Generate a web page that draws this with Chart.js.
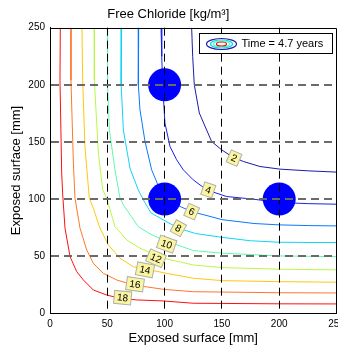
<!DOCTYPE html>
<html>
<head>
<meta charset="utf-8">
<script src="https://cdn.jsdelivr.net/npm/chart.js@4.4.1/dist/chart.umd.min.js"></script>
<style>
  html, body { margin: 0; padding: 0; background: #fff; }
  canvas { display: block; }
</style>
</head>
<body>
<canvas id="myChart" width="338" height="351"></canvas>
<script>
const FONT = "'Liberation Sans', Arial, Helvetica, sans-serif";

// contour levels and their colours (jet-like)
const levels = [2, 4, 6, 8, 10, 12, 14, 16, 18];
const levelColors = ['#1c1ca8', '#1822ee', '#0a78ff', '#10d4f8', '#60f8b0', '#b8f848', '#ffc810', '#ff7828', '#ff1010'];

// contour lines [mm]
const c2x = [123.6, 124.5, 125.9, 130.3, 141, 149.8, 158.5, 168.7, 183.2, 200.7, 225, 250];
const c2y = [250, 225, 200, 175.3, 150.4, 143.1, 137.3, 132.9, 128.5, 126.2, 124.7, 123.6];
const c4x = [96.9, 97.5, 98.3, 100.3, 104.7, 110.5, 116.3, 125, 136.7, 154.2, 177.4, 200, 225, 250];
const c4y = [250, 225, 200, 166.5, 146, 134.4, 125.6, 116.8, 108, 102.2, 99.9, 97, 96, 95.5];
const c6x = [77.4, 77.2, 77, 78.5, 82.9, 88.7, 96, 101.5, 108, 123.6, 137, 150, 178, 200, 225, 250];
const c6y = [250, 225, 200, 178.2, 150.4, 125.6, 108, 101.5, 96, 89, 85.5, 82, 78.6, 77.4, 76.8, 76.5];
const c8x = [62.5, 62.2, 62, 64, 69.8, 77, 81.5, 88, 99.3, 112, 127, 150, 175, 200, 225, 250];
const c8y = [250, 225, 200, 160.6, 127, 108, 99.3, 88, 81.5, 74.5, 69.8, 66.5, 63.5, 62.2, 62, 62];
const c10x = [50, 50, 50.5, 51.8, 56.7, 61.1, 64, 77, 87.3, 98.9, 125, 150.3, 200, 250];
const c10y = [250, 225, 200, 160.6, 125.6, 100.8, 94.9, 75.9, 69.5, 64.2, 54.9, 52.6, 50.2, 49.6];
const c12x = [38.7, 38.7, 42.2, 46, 49.5, 56.7, 66.9, 78.5, 98.9, 125, 150.3, 200, 250];
const c12y = [250, 204, 140.2, 108, 100.8, 75.9, 64.2, 57, 48.2, 42.3, 40, 38.6, 38];
const c14x = [27.9, 28.5, 30.5, 34.3, 37.8, 43.6, 50.9, 61.1, 72.7, 101.8, 125, 150.3, 200, 250];
const c14y = [250, 204, 146, 100.8, 92, 74.5, 59.9, 48.2, 40.8, 35, 30.7, 28.6, 27.7, 27.2];
const c16x = [18.3, 18.3, 20.4, 21.8, 26.2, 32, 37.8, 46.5, 58.2, 72.7, 98.9, 125, 200.7, 250];
const c16y = [250, 204, 131.5, 100.8, 74.5, 55.5, 43.8, 35, 29.2, 24.8, 21, 18.9, 18, 17.8];
const c18x = [9, 8.7, 10.2, 11.1, 13.1, 17.5, 23.3, 29.1, 37.8, 49.5, 61.1, 75.7, 98.9, 125, 200, 250];
const c18y = [250, 204, 122.7, 103.7, 74.5, 49.6, 36.5, 29.2, 20.4, 16, 13.1, 11.7, 10.8, 8.8, 8.3, 8.2];

const contourX = [c2x, c4x, c6x, c8x, c10x, c12x, c14x, c16x, c18x];
const contourY = [c2y, c4y, c6y, c8y, c10y, c12y, c14y, c16y, c18y];

// where the level labels sit
const labelX = [160.6, 138.1, 123.6, 112, 101.8, 92.5, 82.9, 74.2, 63.4];
const labelY = [135.8, 108, 89, 74.5, 60.5, 48.2, 38, 25.4, 13.7];

// sensor positions
const sensorX = [100, 100, 200];
const sensorY = [200, 100, 100];

const axisTicks = [0, 50, 100, 150, 200, 250];
const legendText = 'Time = 4.7 years';

// labels on the contour lines, rotated along the line
const contourLabels = {
    id: 'contourLabels',
    afterDraw(chart) {
        const { ctx, scales: { x, y } } = chart;
        levels.forEach((lv, k) => {
            const px = x.getPixelForValue(labelX[k]);
            const py = y.getPixelForValue(labelY[k]);
            const xs = contourX[k], ys = contourY[k];
            let best = Infinity, ang = 0;
            for (let i = 0; i < xs.length - 1; i++) {
                const ax = x.getPixelForValue(xs[i]), ay = y.getPixelForValue(ys[i]);
                const bx = x.getPixelForValue(xs[i + 1]), by = y.getPixelForValue(ys[i + 1]);
                const dx = bx - ax, dy = by - ay;
                const len2 = dx * dx + dy * dy || 1;
                let t = ((px - ax) * dx + (py - ay) * dy) / len2;
                t = Math.max(0, Math.min(1, t));
                const d = Math.hypot(ax + t * dx - px, ay + t * dy - py);
                if (d < best) { best = d; ang = Math.atan2(dy, dx); }
            }
            if (ang > Math.PI / 2) ang -= Math.PI;
            if (ang < -Math.PI / 2) ang += Math.PI;
            ctx.save();
            ctx.translate(px, py);
            ctx.rotate(ang);
            ctx.font = '10px ' + FONT;
            const txt = String(lv);
            const w = ctx.measureText(txt).width + 6;
            const h = 13;
            ctx.fillStyle = '#faf5a2';
            ctx.strokeStyle = '#b0b0a8';
            ctx.lineWidth = 1;
            ctx.fillRect(-w / 2, -h / 2, w, h);
            ctx.strokeRect(-w / 2, -h / 2, w, h);
            ctx.fillStyle = '#000';
            ctx.textAlign = 'center';
            ctx.textBaseline = 'middle';
            ctx.fillText(txt, 0, 0.5);
            ctx.restore();
        });
    }
};

// box round the axes + the matlab style legend
const frameAndLegend = {
    id: 'frameAndLegend',
    afterDraw(chart) {
        const { ctx, chartArea: ca } = chart;
        ctx.save();
        ctx.strokeStyle = '#000';
        ctx.lineWidth = 1;
        ctx.beginPath();
        ctx.moveTo(Math.round(ca.left) + 0.5, Math.round(ca.top) + 0.5);
        ctx.lineTo(Math.round(ca.right) - 0.5, Math.round(ca.top) + 0.5);
        ctx.lineTo(Math.round(ca.right) - 0.5, Math.round(ca.bottom) + 0.5);
        ctx.stroke();

        const bx = Math.round(ca.right) - 137.5, by = Math.round(ca.top) + 5.5, bw = 133, bh = 20;
        ctx.fillStyle = '#fff';
        ctx.fillRect(bx, by, bw, bh);
        ctx.strokeRect(bx, by, bw, bh);

        const ex = bx + 22, ey = by + bh / 2 + 0.5;
        const rings = [[15, 5.5, '#1c1ca8'], [11, 4, '#10d4f8'], [8, 3, '#60f8b0'], [5, 2, '#e01010']];
        rings.forEach(([rx, ry, c]) => {
            ctx.beginPath();
            ctx.ellipse(ex, ey, rx, ry, 0, 0, Math.PI * 2);
            ctx.strokeStyle = c;
            ctx.lineWidth = 1.2;
            ctx.stroke();
        });
        ctx.fillStyle = '#000';
        ctx.font = '11px ' + FONT;
        ctx.textBaseline = 'middle';
        ctx.textAlign = 'left';
        ctx.fillText(legendText, bx + 42, ey);
        ctx.restore();
    }
};

const datasets = [{
    label: 'sensors',
    data: sensorX.map((x, i) => ({ x, y: sensorY[i] })),
    pointRadius: 16.5,
    pointHoverRadius: 16.5,
    backgroundColor: '#0000ff',
    borderWidth: 0,
    showLine: false,
    order: 0
}];
levels.forEach((lv, k) => {
    datasets.push({
        label: String(lv),
        data: contourX[k].map((x, i) => ({ x, y: contourY[k][i] })),
        showLine: true,
        borderColor: levelColors[k],
        borderWidth: 1,
        pointRadius: 0,
        tension: 0,
        fill: false,
        order: 1
    });
});

const ctx = document.getElementById('myChart').getContext('2d');
new Chart(ctx, {
    type: 'scatter',
    data: { datasets },
    options: {
        responsive: false,
        animation: false,
        events: [],
        layout: { autoPadding: false, padding: { left: 0, right: 1.5, top: 0, bottom: 0 } },
        plugins: {
            legend: { display: false },
            tooltip: { enabled: false },
            title: {
                display: true,
                text: 'Free Chloride [kg/m³]',
                color: '#000',
                font: { family: FONT, size: 13, weight: 'normal' },
                padding: { top: 7, bottom: 5.1 }
            }
        },
        scales: {
            x: {
                type: 'linear',
                min: 0,
                max: 250,
                afterBuildTicks: s => { s.ticks = axisTicks.map(v => ({ value: v })); },
                afterFit: s => { s.height = 37.7; s.paddingLeft = 0; s.paddingRight = 0; },
                ticks: { color: '#000', font: { family: FONT, size: 10 }, padding: 5, maxRotation: 0, autoSkip: false },
                grid: {
                    z: 1,
                    drawTicks: false,
                    lineWidth: 1,
                    color: c => (c.tick && c.tick.value > 0 && c.tick.value < 250) ? '#000' : 'rgba(0,0,0,0)'
                },
                // border after the grid so its position is already known
                border: { z: 2, color: '#000', width: 1, dash: [8, 5] },
                title: {
                    display: true,
                    text: 'Exposed surface [mm]',
                    color: '#000',
                    font: { family: FONT, size: 13 },
                    padding: { top: 0, bottom: 4.9 }
                }
            },
            y: {
                type: 'linear',
                min: 0,
                max: 250,
                afterBuildTicks: s => { s.ticks = axisTicks.map(v => ({ value: v })); },
                afterFit: s => { s.width = 50; },
                ticks: { color: '#000', font: { family: FONT, size: 10 }, padding: 5, autoSkip: false },
                grid: {
                    z: 1,
                    drawTicks: false,
                    lineWidth: 2,
                    color: c => (c.tick && c.tick.value > 0 && c.tick.value < 250) ? '#6a6a6a' : 'rgba(0,0,0,0)'
                },
                border: { z: 2, color: '#000', width: 1, dash: [8, 5] },
                title: {
                    display: true,
                    text: 'Exposed surface [mm]',
                    color: '#000',
                    font: { family: FONT, size: 13 },
                    padding: { top: 8.2, bottom: 0 }
                }
            }
        }
    },
    plugins: [contourLabels, frameAndLegend]
});
</script>
</body>
</html>
